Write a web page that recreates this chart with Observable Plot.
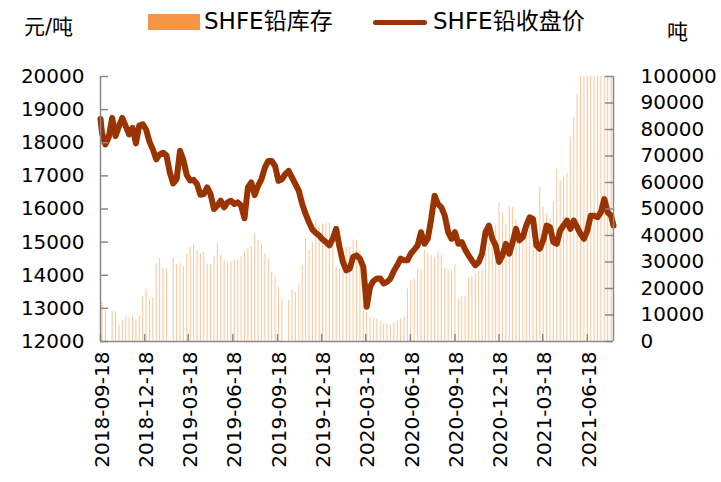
<!DOCTYPE html>
<html>
<head>
<meta charset="utf-8">
<script src="https://cdn.jsdelivr.net/npm/d3@7"></script>
<script src="https://cdn.jsdelivr.net/npm/@observablehq/plot@0.6"></script>
<style>
  html, body { margin: 0; padding: 0; background: #fff; }
  #wrap { position: relative; width: 721px; height: 482px; overflow: hidden; font-family: "DejaVu Sans", "Noto Sans CJK SC", sans-serif; color: #000; }
  #head { position: relative; width: 721px; height: 50px; }
  #head span { position: absolute; white-space: nowrap; }
  .unit { font-size: 21px; line-height: 21px; }
  .leg { font-size: 23px; line-height: 23px; top: 10px; }
  .swatch { position: absolute; }
</style>
</head>
<body>
<div id="wrap">
  <div id="head">
    <span class="unit" style="left:24px; top:17px;">元/吨</span>
    <div class="swatch" style="left:148px; top:14px; width:52px; height:16px; background:#F79646;"></div>
    <span class="leg" style="left:204px;">SHFE铅库存</span>
    <div class="swatch" style="left:373px; top:20px; width:54px; height:5px; border-radius:3px; background:#993300;"></div>
    <span class="leg" style="left:433px;">SHFE铅收盘价</span>
    <span class="unit" style="left:667px; top:22px;">吨</span>
  </div>
  <div id="chart"></div>
</div>
<script>
const dates = ["2018-09-18",
"2018-09-21","2018-09-28","2018-10-05","2018-10-12","2018-10-19","2018-10-26","2018-11-02","2018-11-09","2018-11-16","2018-11-23","2018-11-30","2018-12-07","2018-12-14","2018-12-21","2018-12-28",
"2019-01-04","2019-01-11","2019-01-18","2019-01-25","2019-02-01","2019-02-08","2019-02-15","2019-02-22","2019-03-01","2019-03-08","2019-03-15","2019-03-22","2019-03-29",
"2019-04-05","2019-04-12","2019-04-19","2019-04-26","2019-05-03","2019-05-10","2019-05-17","2019-05-24","2019-05-31","2019-06-07","2019-06-14","2019-06-21","2019-06-28",
"2019-07-05","2019-07-12","2019-07-19","2019-07-26","2019-08-02","2019-08-09","2019-08-16","2019-08-23","2019-08-30","2019-09-06","2019-09-13","2019-09-20","2019-09-27",
"2019-10-04","2019-10-11","2019-10-18","2019-10-25","2019-11-01","2019-11-08","2019-11-15","2019-11-22","2019-11-29","2019-12-06","2019-12-13","2019-12-20","2019-12-27",
"2020-01-03","2020-01-10","2020-01-17","2020-01-24","2020-01-31","2020-02-07","2020-02-14","2020-02-21","2020-02-28","2020-03-06","2020-03-13","2020-03-20","2020-03-27",
"2020-04-03","2020-04-10","2020-04-17","2020-04-24","2020-05-01","2020-05-08","2020-05-15","2020-05-22","2020-05-29","2020-06-05","2020-06-12","2020-06-19","2020-06-26",
"2020-07-03","2020-07-10","2020-07-17","2020-07-24","2020-07-31","2020-08-07","2020-08-14","2020-08-21","2020-08-28","2020-09-04","2020-09-11","2020-09-18","2020-09-25",
"2020-10-02","2020-10-09","2020-10-16","2020-10-23","2020-10-30","2020-11-06","2020-11-13","2020-11-20","2020-11-27","2020-12-04","2020-12-11","2020-12-18","2020-12-25",
"2021-01-01","2021-01-08","2021-01-15","2021-01-22","2021-01-29","2021-02-05","2021-02-12","2021-02-19","2021-02-26","2021-03-05","2021-03-12","2021-03-19","2021-03-26",
"2021-04-02","2021-04-09","2021-04-16","2021-04-23","2021-04-30","2021-05-07","2021-05-14","2021-05-21","2021-05-28","2021-06-04","2021-06-11","2021-06-18","2021-06-25",
"2021-07-02","2021-07-09","2021-07-16","2021-07-23","2021-07-30","2021-08-06",
"2021-08-11"];

// SHFE铅库存 (吨)
const inventory = [null,
14500,11600,null,11200,11200,6200,7800,9300,9000,9300,
8200,9600,16900,19400,15800,16500,29400,31400,27500,27500,
null,31600,29100,29500,28300,33200,35400,36800,34300,33000,
33500,29200,28900,32300,36900,32500,30500,29600,30200,30900,
30800,32000,33800,35100,35800,40600,38000,36800,33100,31100,
26100,24500,20500,15700,null,15600,19500,18500,21400,28800,
39000,34500,37400,45900,43800,44300,44700,44700,37000,28000,
27100,29200,35500,35500,38300,38000,34300,22900,11000,9100,
8500,8500,7600,6800,6600,6200,7000,7600,8500,9100,
19800,22900,23600,27100,26700,34300,33000,32400,31700,33900,
32400,27600,27100,26800,29000,16000,16900,16900,23800,24500,
25600,26400,27400,33000,37000,40000,44000,52200,48500,44000,
51000,50500,46000,41000,37000,40000,46800,36200,45000,58200,
50600,48100,46200,52800,65000,60700,62000,63500,77000,84600,
93300,100000,100000,100000,100000,100000,100000,100000,100000,100000,
100000,
null];

// SHFE铅收盘价 (元/吨)
const price = [18720,
18300,17950,18165,18750,18200,18500,18750,18500,18250,18450,
17980,18520,18560,18400,18030,17800,17500,17650,17700,17620,
17100,16770,16900,17760,17470,17020,16860,16880,16750,16430,
16450,16650,16450,16000,16100,16250,16050,16200,16250,16150,
16200,16100,15720,16650,16800,16420,16700,16900,17250,17450,
17450,17300,16850,16900,17050,17150,16950,16750,16550,16150,
15850,15600,15380,15280,15200,15080,15000,14900,15100,15400,
14850,14400,14150,14200,14550,14600,14500,14250,13050,13650,
13830,13900,13900,13750,13800,13900,14130,14300,14500,14450,
14450,14650,14770,14900,15300,14950,15100,15700,16400,16150,
16050,15800,15300,15100,15300,14950,15000,14780,14600,14450,
14300,14400,14650,15300,15500,15100,14900,14400,14600,14950,
14650,15000,15400,15050,15150,15500,15750,15700,14900,14800,
15050,15500,15450,15000,14950,15350,15500,15650,15400,15650,
15450,15250,15100,15350,15800,15800,15750,15900,16300,15900,
15800,
15500];

const leftTicks = [12000,13000,14000,15000,16000,17000,18000,19000,20000];
const rightTicks = [0,10000,20000,30000,40000,50000,60000,70000,80000,90000,100000];
const xTickLabels = ["2018-09-18","2018-12-18","2019-03-18","2019-06-18","2019-09-18","2019-12-18",
  "2020-03-18","2020-06-18","2020-09-18","2020-12-18","2021-03-18","2021-06-18"];

const W = 721, H = 432;
const mT = 26, mB = 141, mL = 100, mR = 108;
const frameW = W - mL - mR, frameH = H - mT - mB;
const axisGray = "#898989";

const yMin = leftTicks[0], yMax = leftTicks[leftTicks.length - 1];
const invMax = rightTicks[rightTicks.length - 1];
const toY = v => yMin + v / invMax * (yMax - yMin);
const fromY = y => Math.round((y - yMin) / (yMax - yMin) * invMax);

const rows = dates.map((d, i) => ({date: new Date(d), inv: inventory[i], price: price[i]}));
const bars = rows.filter(r => r.inv != null);
const xDomain = [new Date(dates[0]), new Date(dates[dates.length - 1])];
const xTicks = xTickLabels.map(s => new Date(s));
const fmt = d3.utcFormat("%Y-%m-%d");

const chart = Plot.plot({
  width: W, height: H,
  marginTop: mT, marginBottom: mB, marginLeft: mL, marginRight: mR,
  style: {fontFamily: "DejaVu Sans, Noto Sans CJK SC, sans-serif", fontSize: "20px", color: "#000", background: "#fff"},
  x: {type: "utc", domain: xDomain},
  y: {domain: [yMin, yMax]},
  marks: [
    Plot.ruleX(bars, {x: "date", y1: yMin, y2: d => toY(d.inv), stroke: "#F79646", strokeOpacity: 0.55, strokeWidth: 1, clip: true}),
    Plot.line(rows, {x: "date", y: "price", stroke: "#993300", strokeWidth: 6, strokeLinejoin: "round", strokeLinecap: "round"}),
    // axis lines
    Plot.ruleY([yMin], {stroke: axisGray, strokeWidth: 1.5}),
    Plot.ruleX([xDomain[0]], {stroke: axisGray, strokeWidth: 1.5}),
    Plot.ruleX([xDomain[1]], {stroke: axisGray, strokeWidth: 1.5}),
    // inward tick marks
    Plot.tickY(leftTicks, {y: d => d, stroke: axisGray, strokeWidth: 1.5, insetRight: frameW - 8}),
    Plot.tickY(rightTicks.map(toY), {y: d => d, stroke: axisGray, strokeWidth: 1.5, insetLeft: frameW - 8}),
    Plot.tickX(xTicks, {x: d => d, stroke: axisGray, strokeWidth: 1.5, insetTop: frameH - 7}),
    // labels
    Plot.axisY(leftTicks, {anchor: "left", tickSize: 0, tickPadding: 16, label: null, tickFormat: d => String(d), fill: "#000"}),
    Plot.axisY(rightTicks.map(toY), {anchor: "right", tickSize: 0, tickPadding: 27, label: null, tickFormat: d => String(fromY(d)), fill: "#000"}),
    Plot.axisX(xTicks, {anchor: "bottom", tickSize: 0, tickPadding: 10, tickRotate: -90, tickFormat: fmt, label: null, fill: "#000", dx: 2})
  ]
});
document.getElementById("chart").appendChild(chart);
</script>
</body>
</html>
